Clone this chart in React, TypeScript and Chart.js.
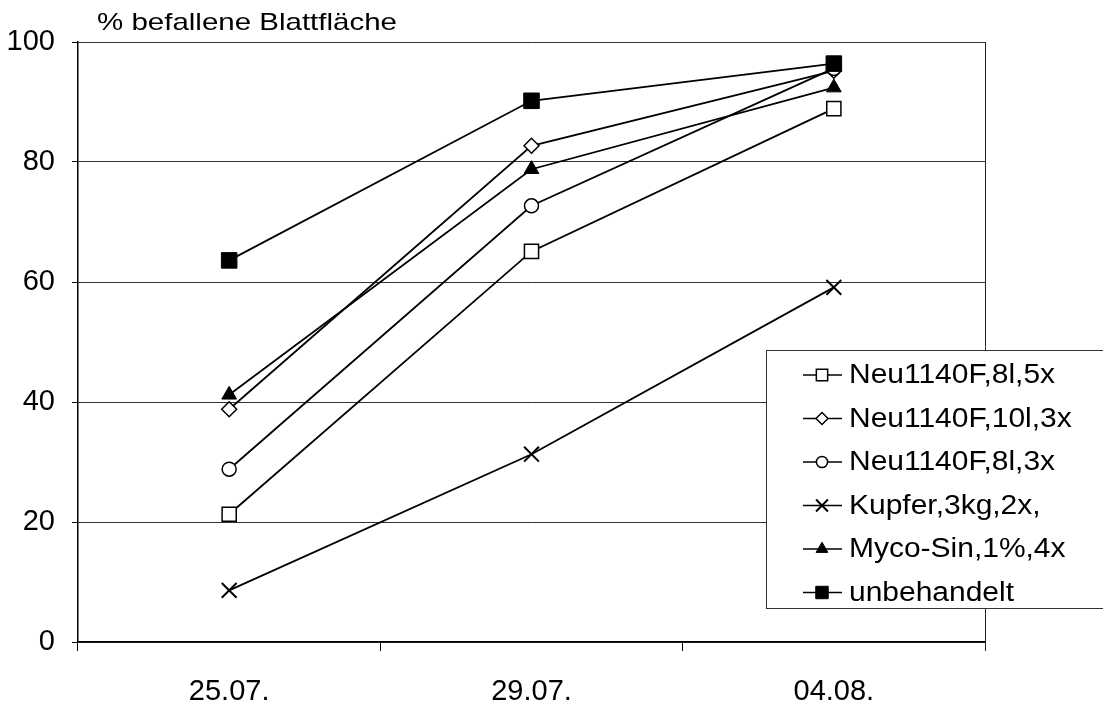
import React, { useEffect, useRef } from 'react';
import { Chart, registerables } from 'chart.js';
import { drawPoint } from 'chart.js/helpers';

Chart.register(...registerables);

const categories = ['25.07.', '29.07.', '04.08.'];
const seriesNames = [
  'Neu1140F,8l,5x',
  'Neu1140F,10l,3x',
  'Neu1140F,8l,3x',
  'Kupfer,3kg,2x,',
  'Myco-Sin,1%,4x',
  'unbehandelt',
];
const neu8l5x = [21.3, 65.1, 88.9];
const neu10l3x = [38.8, 82.7, 95.2];
const neu8l3x = [28.8, 72.7, 95.6];
const kupfer = [8.6, 31.3, 59.1];
const myco = [41.2, 78.8, 92.4];
const unbehandelt = [63.6, 90.2, 96.4];
const yMin = 0;
const yMax = 100;
const yStep = 20;
const yTitle = '% befallene Blattfläche';

const FONT = '"Liberation Sans", Arial, Helvetica, sans-serif';

const styles = [
  { pointStyle: 'rect', radius: 10, fill: '#fff', bw: 1.5 },
  { pointStyle: 'rectRot', radius: 7.5, fill: '#fff', bw: 1.5 },
  { pointStyle: 'circle', radius: 7, fill: '#fff', bw: 1.5 },
  { pointStyle: 'crossRot', radius: 10.5, fill: '#000', bw: 2 },
  { pointStyle: 'triangle', radius: 8.5, fill: '#000', bw: 1 },
  { pointStyle: 'rect', radius: 11, fill: '#000', bw: 1 },
];
const seriesData = [neu8l5x, neu10l3x, neu8l3x, kupfer, myco, unbehandelt];

function stretchedText(ctx: CanvasRenderingContext2D, text: string, x: number, y: number, width: number) {
  const w = ctx.measureText(text).width;
  ctx.save();
  ctx.translate(x, y);
  ctx.scale(width / w, 1);
  ctx.fillText(text, 0, 0);
  ctx.restore();
}

const overlayPlugin = {
  id: 'overlay',
  afterDraw(chart: any) {
    const ctx = chart.ctx as CanvasRenderingContext2D;
    const area = chart.chartArea;
    ctx.save();
    ctx.strokeStyle = '#222';
    ctx.lineWidth = 1;
    ctx.beginPath();
    ctx.moveTo(area.right + 0.5, area.top);
    ctx.lineTo(area.right + 0.5, area.bottom + 9);
    ctx.stroke();

    // title
    ctx.fillStyle = '#000';
    ctx.font = `24px ${FONT}`;
    ctx.textBaseline = 'middle';
    ctx.textAlign = 'left';
    stretchedText(ctx, yTitle, 97, 23, 300);

    // legend
    const bx = 766, by = 350, bw = 400, bh = 258;
    ctx.fillStyle = '#fff';
    ctx.fillRect(bx, by, bw, bh);
    ctx.strokeStyle = '#333';
    ctx.lineWidth = 1;
    ctx.strokeRect(bx + 0.5, by + 0.5, bw, bh);
    chart.data.datasets.forEach((ds: any, i: number) => {
      const y = 375 + i * 43.5;
      ctx.strokeStyle = '#000';
      ctx.lineWidth = 1.5;
      ctx.beginPath();
      ctx.moveTo(803, y);
      ctx.lineTo(842, y);
      ctx.stroke();
      const st = styles[i];
      ctx.fillStyle = st.fill;
      ctx.strokeStyle = '#000';
      ctx.lineWidth = st.bw;
      drawPoint(ctx, { pointStyle: st.pointStyle, radius: st.radius * 0.8, rotation: 0, borderWidth: st.bw } as any, 822, y);
      ctx.fillStyle = '#000';
      ctx.font = `27px ${FONT}`;
      ctx.textBaseline = 'middle';
      ctx.save();
      ctx.translate(849, y + 1);
      ctx.scale(1.11, 1);
      ctx.fillText(ds.label, 0, 0);
      ctx.restore();
    });
    ctx.restore();
  },
};

export default function App() {
  const ref = useRef<HTMLCanvasElement | null>(null);
  useEffect(() => {
    if (!ref.current) return;
    const datasets = seriesData.map((d, i) => ({
      label: seriesNames[i],
      data: d,
      borderColor: '#000',
      borderWidth: 1.8,
      backgroundColor: styles[i].fill,
      pointStyle: styles[i].pointStyle,
      pointRadius: styles[i].radius,
      pointHoverRadius: styles[i].radius,
      pointBackgroundColor: styles[i].fill,
      pointBorderColor: '#000',
      pointBorderWidth: styles[i].bw,
      tension: 0,
      fill: false,
      order: i === 5 ? 0 : 6 - i,
    }));
    const chart = new Chart(ref.current, {
      type: 'line',
      data: { labels: categories, datasets },
      options: {
        animation: false,
        responsive: false,
        devicePixelRatio: 1,
        layout: { padding: { top: 42, right: 118, left: 0, bottom: 0 } },
        plugins: { legend: { display: false }, title: { display: false }, tooltip: { enabled: false } },
        scales: {
          x: {
            type: 'category',
            offset: true,
            grid: { offset: true, drawOnChartArea: false, drawTicks: true, tickLength: 9, color: '#000', lineWidth: 1 },
            border: { display: true, color: '#000', width: 1.5 },
            ticks: { color: '#000', font: { family: FONT, size: 29 }, padding: 24, maxRotation: 0 },
            afterFit: (s: any) => { s.height = 65; },
          },
          y: {
            min: yMin,
            max: yMax,
            ticks: { stepSize: yStep, color: '#000', font: { family: FONT, size: 29 }, padding: 17 },
            grid: { color: '#333', lineWidth: 1, drawTicks: true, tickLength: 6, tickColor: '#000' },
            border: { display: true, color: '#000', width: 1.5 },
            afterFit: (s: any) => { s.width = 78; },
          },
        },
      },
      plugins: [overlayPlugin],
    } as any);
    return () => chart.destroy();
  }, []);
  return (
    <div style={{ position: 'absolute', left: 0, top: 0, width: 1103, height: 707, background: '#fff' }}>
      <canvas ref={ref} width={1103} height={707} style={{ display: 'block' }} />
    </div>
  );
}
